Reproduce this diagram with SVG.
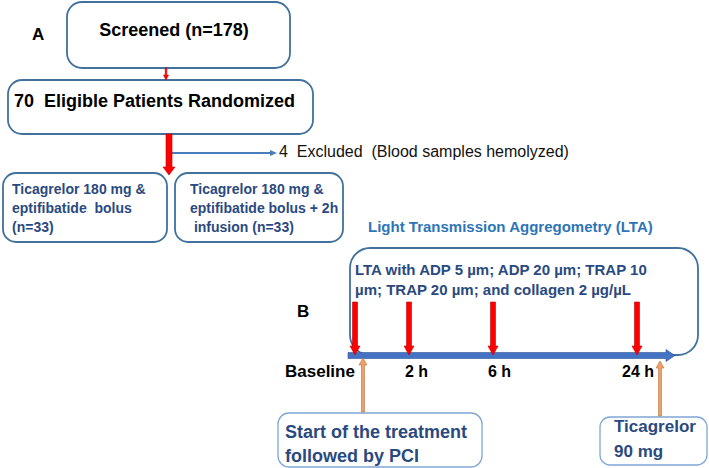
<svg xmlns="http://www.w3.org/2000/svg" width="709" height="468" viewBox="0 0 709 468">
<style>
.box{fill:#fff;stroke:#41719C;stroke-width:1.8}
.lbox{fill:#fff;stroke:#7FA7D6;stroke-width:1.3}
.blk{font-family:"Liberation Sans",Arial,sans-serif;font-weight:bold;fill:#000}
.db{font-family:"Liberation Sans",Arial,sans-serif;font-weight:bold;fill:#2A4A7F}
.reg{font-family:"Liberation Sans",Arial,sans-serif;fill:#111}
.red{fill:#FF0000;stroke:#C00000;stroke-width:0.6}
.org{fill:#EDA06A;stroke:#B8743F;stroke-width:0.6}
</style>
<rect width="709" height="468" fill="#fff"/>
<text class="blk" x="32" y="40" font-size="17">A</text>
<text class="blk" x="297" y="317" font-size="17">B</text>
<g id="screened">
<rect class="box" x="67" y="2" width="223" height="66" rx="15"/>
<text class="blk" x="174" y="36" font-size="18" text-anchor="middle">Screened (n=178)</text>
</g>
<g id="eligible">
<rect class="box" x="8" y="80" width="305" height="54" rx="14"/>
<text class="blk" x="14" y="107" font-size="18" xml:space="preserve">70  Eligible Patients Randomized</text>
</g>
<g id="excluded">
<text class="reg" x="279" y="157" font-size="16" xml:space="preserve">4  Excluded  (Blood samples hemolyzed)</text>
</g>
<g id="arm1">
<rect class="box" x="3" y="173" width="164" height="69" rx="13"/>
<text class="db" font-size="14"><tspan x="12" y="194">Ticagrelor 180 mg &amp;</tspan><tspan x="12" y="213" xml:space="preserve">eptifibatide  bolus</tspan><tspan x="12" y="232">(n=33)</tspan></text>
</g>
<g id="arm2">
<rect class="box" x="175" y="173" width="168" height="69" rx="13"/>
<text class="db" font-size="14"><tspan x="190" y="194">Ticagrelor 180 mg &amp;</tspan><tspan x="190" y="213">eptifibatide bolus + 2h</tspan><tspan x="190" y="232" xml:space="preserve"> infusion (n=33)</tspan></text>
</g>
<text id="lta-title" font-family="Liberation Sans, Arial, sans-serif" font-weight="bold" font-size="15" fill="#2E75B6" x="368" y="232">Light Transmission Aggregometry (LTA)</text>
<g id="lta-box">
<rect class="box" x="350" y="248" width="348" height="107" rx="20"/>
<text class="db" font-size="15"><tspan x="355" y="275">LTA with ADP 5 µm; ADP 20 µm; TRAP 10</tspan><tspan x="355" y="295">µm; TRAP 20 µm; and collagen 2 µg/µL</tspan></text>
</g>
<g id="labels">
<text class="blk" x="285" y="377" font-size="17">Baseline</text>
<text class="blk" x="405" y="377" font-size="16">2 h</text>
<text class="blk" x="488" y="377" font-size="16">6 h</text>
<text class="blk" x="622" y="377" font-size="16">24 h</text>
</g>
<g id="start">
<rect class="lbox" x="278" y="413" width="204" height="54" rx="11"/>
<text class="db" font-size="18"><tspan x="285" y="438">Start of the treatment</tspan><tspan x="285" y="462">followed by PCI</tspan></text>
</g>
<g id="tica90">
<rect class="lbox" x="600" y="417" width="107" height="48" rx="10"/>
<text class="db" font-size="17"><tspan x="614" y="432">Ticagrelor</tspan><tspan x="614" y="457">90 mg</tspan></text>
</g>
<g id="connectors">
<polygon class="red" points="165.2,68 166.8,68 166.8,75 168.5,75 166,80 163.5,75 165.2,75"/>
<line x1="169" y1="153" x2="271" y2="153" stroke="#4A7EBB" stroke-width="1.8"/>
<polygon points="270,150 277,153 270,156" fill="#4A7EBB"/>
<polygon class="red" points="166,134 172,134 172,167 175,167 169,175 163,167 166,167"/>
<polygon points="348,352.5 666,352.5 666,349.5 675,355.5 666,361.5 666,358.5 348,358.5" fill="#4472C4" stroke="#2F5597" stroke-width="0.6"/>
<polygon class="red" points="352.5,302 357.5,302 357.5,346 360,346 355,355 350,346 352.5,346"/>
<polygon class="red" points="406.5,302 411.5,302 411.5,346 414,346 409,355 404,346 406.5,346"/>
<polygon class="red" points="490.5,302 495.5,302 495.5,346 498,346 493,355 488,346 490.5,346"/>
<polygon class="red" points="634.5,302 639.5,302 639.5,346 642,346 637,355 632,346 634.5,346"/>
<polygon class="org" points="361.5,412 364.5,412 364.5,365 367,365 363,358 359,365 361.5,365"/>
<polygon class="org" points="658.5,416 661.5,416 661.5,368 664,368 660,361 656,368 658.5,368"/>
</g>
</svg>
